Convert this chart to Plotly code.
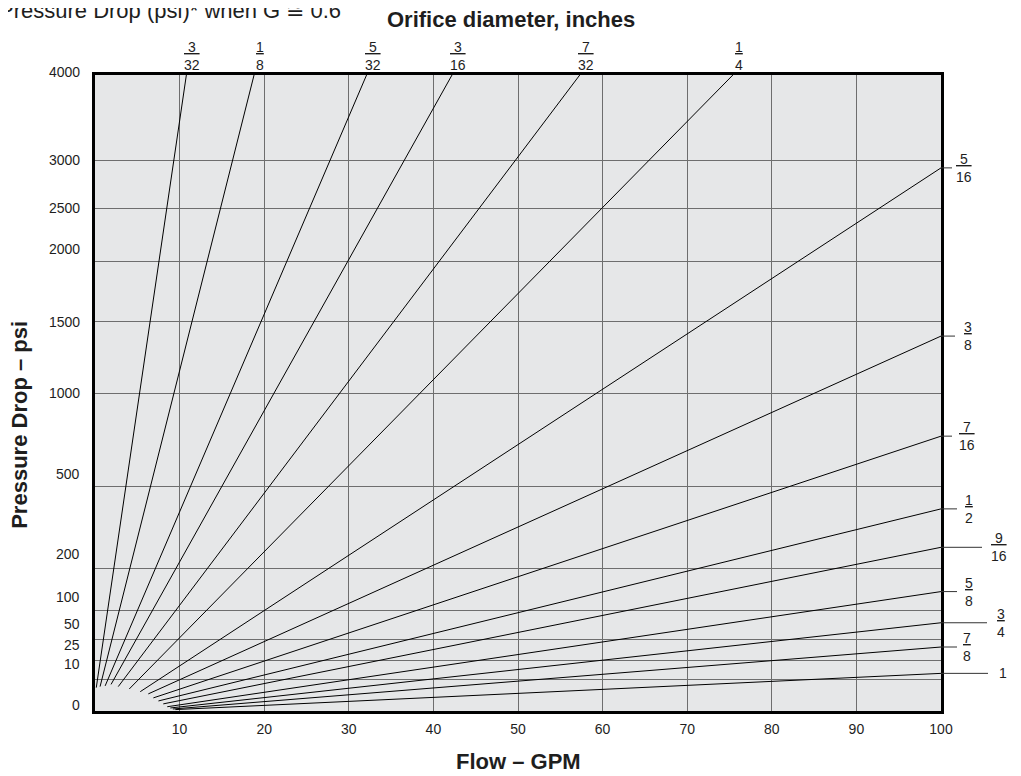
import numpy as np
import plotly.graph_objects as go

# orifice lines that leave the chart through the top (4000 psi)
top_sizes = ["3/32", "1/8", "5/32", "3/16", "7/32", "1/4"]
top_start_gpm = [0.15, 0.6, 1.2, 1.9, 2.75, 4.05]
top_start_psi = [5.4, 5.9, 6.25, 7.0, 5.9, 4.8]
top_end_gpm = [10.8, 18.8, 32.1, 42.2, 57.3, 75.4]
top_end_psi = 4000

# orifice lines that leave the chart through the right edge (100 GPM)
right_sizes = ["5/16", "3/8", "7/16", "1/2", "9/16", "5/8", "3/4", "7/8", "1"]
right_start_gpm = [5.35, 6.3, 6.9, 7.5, 8.07, 8.54, 8.9, 9.2, 9.5]
right_start_psi = [3.7, 2.9, 1.7, 1.0, 0.5, 0.18, 0.09, 0.04, 0.02]
right_end_psi = [2917, 1390, 747, 404, 265, 141, 77, 40.5, 14]
right_end_gpm = 100

psi_ticks = [0, 10, 25, 50, 100, 200, 500, 1000, 1500, 2000, 2500, 3000, 4000]
gpm_ticks = [10, 20, 30, 40, 50, 60, 70, 80, 90, 100]

FONT = "Liberation Sans, Arial, sans-serif"
INK = "#1e1e1e"
# the printed psi labels sit a little above some of their grid lines (px)
psi_label_lift = [6, 15, 16, 16, 13, 15, 12, 0, 0, 12, 0, 0, 3]
# right-side leader length and label offset (px); the long ones stagger crowded labels
leader_len = [11, 14, 11, 16, 41, 16, 46, 16, 47]
label_off = [23, 27, 26, 28, 58, 28, 60, 26, 62]


def frac(s):
    """Stacked fraction: numerator underlined over denominator."""
    if "/" not in s:
        return s
    n, d = s.split("/")
    if len(d) > len(n):
        pad = "&nbsp;" * (len(d) - len(n))
        n = pad + n + pad
    return f"<u>{n}</u><br>{d}"


fig = go.Figure()

for x0, p0, x1 in zip(top_start_gpm, top_start_psi, top_end_gpm):
    fig.add_trace(go.Scatter(x=[x0, x1], y=np.sqrt([p0, top_end_psi]), mode="lines",
                             line=dict(color="black", width=1), hoverinfo="skip"))
for x0, p0, p1 in zip(right_start_gpm, right_start_psi, right_end_psi):
    fig.add_trace(go.Scatter(x=[x0, right_end_gpm], y=np.sqrt([p0, p1]), mode="lines",
                             line=dict(color="black", width=1), hoverinfo="skip"))

for name, x in zip(top_sizes, top_end_gpm):
    fig.add_annotation(x=x, xref="x", y=1, yref="paper", yanchor="bottom", xanchor="center",
                       xshift=6, yshift=0, text=frac(name), showarrow=False,
                       font=dict(size=14, color=INK))

ymax = float(np.sqrt(4000))
for name, p, ln, off in zip(right_sizes, right_end_psi, leader_len, label_off):
    y = float(np.sqrt(p))
    # paper refs so the leader is not clipped to the plot area
    fig.add_shape(type="line", xref="paper", xsizemode="pixel", xanchor=1,
                  x0=0, x1=ln, yref="paper", y0=y / ymax, y1=y / ymax,
                  line=dict(color="#333", width=1))
    fig.add_annotation(x=right_end_gpm, xref="x", y=y, yref="y", xanchor="center",
                       yanchor="middle", xshift=off, text=frac(name), showarrow=False,
                       font=dict(size=14, color=INK))

for v, lift in zip(psi_ticks, psi_label_lift):
    fig.add_annotation(x=0, xref="paper", xanchor="right", xshift=-13, y=float(np.sqrt(v)),
                       yref="y", yanchor="middle", yshift=lift, text=str(v),
                       showarrow=False, font=dict(size=14, color=INK))

# note cut off at the top edge, as in the source page
fig.add_annotation(text="Pressure Drop (psi)* when G \u2245 0.6", x=0, xref="paper",
                   xanchor="left", xshift=-98, y=1, yref="paper", yanchor="middle",
                   yshift=65, showarrow=False, font=dict(size=22, color=INK))
fig.add_annotation(text="<b>Orifice diameter, inches</b>", x=0.492, xref="paper",
                   xanchor="center", y=1, yref="paper", yanchor="middle", yshift=56,
                   showarrow=False, font=dict(size=22, color=INK))
fig.add_annotation(text="<b>Flow \u2013 GPM</b>", x=0.5, xref="paper", xanchor="center",
                   y=0, yref="paper", yanchor="middle", yshift=-50, showarrow=False,
                   font=dict(size=22, color=INK))
fig.add_annotation(text="<b>Pressure Drop \u2013 psi</b>", x=0, xref="paper",
                   xanchor="center", xshift=-75, y=0.45, yref="paper", yanchor="middle",
                   textangle=-90, showarrow=False, font=dict(size=22, color=INK))

fig.update_xaxes(range=[0, 100], tickvals=gpm_ticks, showgrid=True, gridcolor="#6e6e6e",
                 gridwidth=1, zeroline=False, showline=True, linecolor="black", linewidth=3,
                 mirror=True, ticks="", ticklabelstandoff=3,
                 tickfont=dict(size=14, color=INK))
fig.update_yaxes(range=[0, ymax], tickvals=np.sqrt(psi_ticks), showticklabels=False,
                 showgrid=True, gridcolor="#6e6e6e", gridwidth=1, zeroline=False,
                 showline=True, linecolor="black", linewidth=3, mirror=True, ticks="")

# page body adds an 8px offset, so margins are set 8px short on the top and left
fig.update_layout(width=1021, height=776, showlegend=False,
                  margin=dict(l=87, r=88, t=67, b=73),
                  plot_bgcolor="#e6e7e8", paper_bgcolor="white",
                  font=dict(family=FONT))

fig.write_html("out.html")
